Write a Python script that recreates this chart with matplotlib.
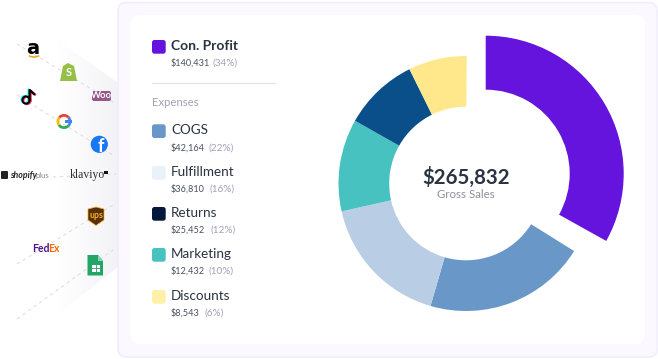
import numpy as np
import matplotlib
matplotlib.use('Agg')
import matplotlib.pyplot as plt
from matplotlib.patches import FancyBboxPatch, Polygon, Circle, Wedge, Arc, Rectangle

W, H = 658, 359

# legend data
names = ['COGS', 'Fulfillment', 'Returns', 'Marketing', 'Discounts']
amounts = ['$42,164', '$36,810', '$25,452', '$12,432', '$8,543']
percents = ['(22%)', '(16%)', '(12%)', '(10%)', '(6%)']
swatch_colors = ['#6897c8', '#e9f1f9', '#03183a', '#48c2c0', '#fff0a8']

# drawn size of each slice (fraction of the circle), read off the ring, not the legend
profit_share = 0.331
expense_shares = [0.206, 0.170, 0.117, 0.095, 0.074]
ring_colors = ['#6897c8', '#b9cee5', '#48c2c0', '#0a4f8a', '#ffe88c']

font = ['Lato', 'DejaVu Sans']
dark = '#2a3342'
grey = '#a3a1b5'

fig = plt.figure(figsize=(W / 100, H / 100), dpi=100)
ax = fig.add_axes([0, 0, 1, 1])
ax.set_xlim(0, W)
ax.set_ylim(0, H)


def Y(y):
    return H - y


def rounded(x0, y0, x1, y1, r, **kw):
    p = FancyBboxPatch((x0 + r, Y(y1) + r), x1 - x0 - 2 * r, y1 - y0 - 2 * r,
                       boxstyle=f'round,pad={r},rounding_size={r}', **kw)
    ax.add_patch(p)
    return p


def label(x, y, s, size, color=dark, weight='normal', ha='left', **kw):
    kw.setdefault('family', font)
    return ax.text(x, Y(y), s, fontsize=size, color=color, fontweight=weight,
                   ha=ha, va='center', **kw)


# faded band behind the logos
band = Polygon([(33, Y(23)), (118, Y(83)), (118, Y(267)), (50, Y(320)), (0, Y(300)), (0, Y(30))],
               closed=True, fc='none', ec='none')
ax.add_patch(band)
grad = np.linspace(0, 1, 120).reshape(1, -1)
cmap = matplotlib.colors.LinearSegmentedColormap.from_list('fade', ['#ffffff', '#ffffff', '#f3f2f6'])
im = ax.imshow(grad, extent=(0, 118, 0, H), cmap=cmap, aspect='auto', zorder=0.5)
im.set_clip_path(band)

# dashed connectors
for x0, y0, x1, y1 in [(17, 44, 113, 102), (17, 95, 113, 155), (53, 177, 117, 174),
                       (17, 264, 113, 205), (17, 319, 113, 250)]:
    ax.plot([x0, x1], [Y(y0), Y(y1)], color='#dcdce0', lw=0.7, ls=(0, (3.5, 3.5)), zorder=1)

# cards
rounded(118, 2.5, 657, 357, 8, fc='#fbf9ff', ec='#f0ebfd', lw=1, zorder=1.5)
rounded(130.5, 15, 645, 344, 10, fc='white', ec='none', zorder=1.6)

# ring: the profit slice sits apart and is bigger
ax.pie([profit_share], radius=138, center=(485.7, Y(173.7)), startangle=90, counterclock=False,
       colors=['#6414dc'], normalize=False, frame=True,
       wedgeprops=dict(width=54, lw=0, zorder=3))
ax.pie(expense_shares, radius=127.5, center=(466, Y(183.5)), startangle=90 - 122, counterclock=False,
       colors=ring_colors, normalize=False, frame=True,
       wedgeprops=dict(width=50.7, lw=0, zorder=3))
ax.set_xlim(0, W)
ax.set_ylim(0, H)
ax.set_aspect('auto')
ax.axis('off')

label(466, 177, '$265,832', 14.7, weight='bold', ha='center', zorder=5)
label(466, 195, 'Gross Sales', 8.3, color='#8f8f99', ha='center', zorder=5)

# legend
rounded(152, 40, 165.7, 53.7, 2.5, fc='#6414dc', ec='none', zorder=4)
label(171, 45.5, 'Con. Profit', 10, weight='bold', zorder=5)
label(171, 63, '$140,431', 6.6, color='#4a5160', zorder=5)
label(212.7, 63, '(34%)', 7.2, color=grey, zorder=5)
ax.plot([152, 275], [Y(83.3), Y(83.3)], color='#e4e4e8', lw=0.9, zorder=4)
label(152, 103, 'Expenses', 8.2, color=grey, zorder=5)

swatch_tops = [124.3, 166, 207, 248, 290]
pct_x = [208.3, 209.3, 210.7, 208.7, 204.7]
for i, name in enumerate(names):
    top = swatch_tops[i]
    rounded(152, top, 165.7, top + 13.7, 2.5, fc=swatch_colors[i], ec='none', zorder=4)
    label(171, top + 5.7, name, 9.7, zorder=5)
    label(171, top + 23.3, amounts[i], 6.6, color='#4a5160', zorder=5)
    label(pct_x[i], top + 23.3, percents[i], 7.2, color=grey, zorder=5)

# logos, roughly
label(33, 49, 'a', 14, color='black', weight='bold', ha='center', zorder=6, family='DejaVu Sans')
ax.add_patch(Arc((34, Y(52)), 15, 10, theta1=215, theta2=325, color='#f49b1e', lw=1.1, zorder=6))

ax.add_patch(Polygon([(63, Y(66)), (68, Y(63)), (74, Y(66)), (77, Y(81)), (60, Y(81))],
                     closed=True, fc='#95bf47', ec='none', zorder=6))
label(68.5, 73, 'S', 8, color='white', weight='bold', ha='center', zorder=7)

# tiktok note, three offset layers
for dx, dy, c in [(-1, -0.6, '#25f4ee'), (1, 0.6, '#fe2c55'), (0, 0, 'black')]:
    ax.add_patch(Circle((26 + dx, Y(100 + dy)), 3.6, fc='none', ec=c, lw=1.4, zorder=6))
    ax.plot([29.6 + dx, 29.6 + dx, 34 + dx], [Y(100 + dy), Y(90 + dy), Y(94 + dy)],
            color=c, lw=1.6, zorder=6)

rounded(92, 91, 111, 101, 2, fc='#96588a', ec='none', zorder=6)
label(101.5, 96, 'Woo', 6.8, color='white', weight='bold', ha='center', zorder=7)

g_c = (64, Y(121.5))
for t1, t2, c in [(-40, 40, '#4285f4'), (40, 140, '#ea4335'), (140, 215, '#fbbc05'), (215, 320, '#34a853')]:
    ax.add_patch(Wedge(g_c, 7.5, t1, t2, width=2.8, fc=c, ec='none', zorder=6))
ax.add_patch(Rectangle((64.5, g_c[1] - 1.3), 7, 2.6, fc='#4285f4', ec='none', zorder=7))

ax.add_patch(Circle((99.3, Y(144.3)), 8.6, fc='#1877f2', ec='none', zorder=6))
label(100.5, 146.5, 'f', 13, color='white', weight='bold', ha='center', zorder=7)

rounded(1, 171, 8, 179, 1, fc='#222222', ec='none', zorder=6)
label(10, 175.5, 'shopify', 6.3, color='#222222', weight='bold', style='italic', zorder=6)
label(36, 175.5, 'plus', 5.6, color='#8a8a8a', zorder=6)

label(87, 175, 'klaviyo', 8.4, color='#303030', ha='center', zorder=6, family='Liberation Serif')
ax.add_patch(Rectangle((104, Y(174)), 3.6, 3.2, fc='#111111', ec='none', zorder=6))

ax.add_patch(Polygon([(88, Y(209)), (96, Y(207)), (104, Y(209)), (104, Y(220)), (96, Y(225.5)), (88, Y(220))],
                     closed=True, fc='#5a2d0c', ec='#f5b81c', lw=0.5, zorder=6))
label(96, 215.5, 'ups', 6.4, color='#f5b81c', weight='bold', ha='center', zorder=7)

label(32, 248, 'Fed', 7.6, color='#4d148c', weight='bold', zorder=6)
label(48, 248, 'Ex', 7.6, color='#ff6600', weight='bold', zorder=6)

ax.add_patch(Polygon([(87.5, Y(255)), (98, Y(255)), (103, Y(261)), (103, Y(275.5)), (87.5, Y(275.5))],
                     closed=True, fc='#23a566', ec='none', zorder=6))
ax.add_patch(Polygon([(98, Y(255)), (103, Y(261)), (98, Y(261))], closed=True, fc='#8ed1b1', ec='none', zorder=7))
ax.add_patch(Rectangle((91.5, Y(271.5)), 8.5, 6.5, fc='white', ec='none', zorder=7))
ax.plot([95.7, 95.7], [Y(265), Y(271.5)], color='#23a566', lw=0.6, zorder=8)
ax.plot([91.5, 100], [Y(268.2), Y(268.2)], color='#23a566', lw=0.6, zorder=8)

fig.savefig('out.png', dpi=100)
